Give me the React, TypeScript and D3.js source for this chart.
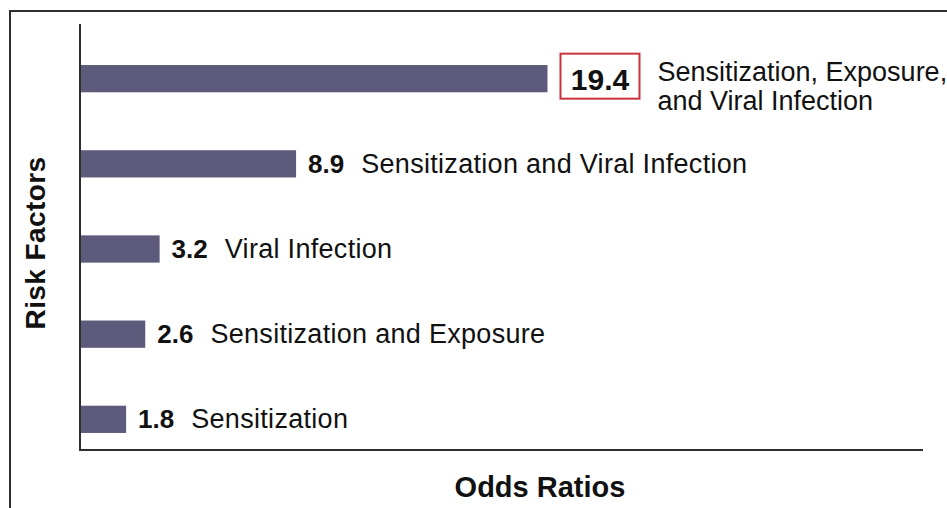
import * as d3 from "d3";

const factors = [
  "Sensitization, Exposure, and Viral Infection",
  "Sensitization and Viral Infection",
  "Viral Infection",
  "Sensitization and Exposure",
  "Sensitization",
];
const oddsRatios = [19.4, 8.9, 3.2, 2.6, 1.8];
const labelLines = [
  ["Sensitization, Exposure,", "and Viral Infection"],
  ["Sensitization and Viral Infection"],
  ["Viral Infection"],
  ["Sensitization and Exposure"],
  ["Sensitization"],
];
const highlighted = 0;

const width = 947;
const height = 508;
const font = "'Liberation Sans', Arial, Helvetica, sans-serif";
const barColor = "#5d5a7b";
const axisColor = "#2e2e2e";

export default function App() {
  const axisX = 80;
  const axisBottom = 450;
  const axisTop = 24;
  const axisRight = 923;

  const xScale = d3.scaleLinear().domain([0, 35]).range([83, 921]);
  const yScale = d3
    .scaleBand<string>()
    .domain(factors)
    .range([48, 450])
    .paddingInner(0.68)
    .paddingOuter(0.2);

  return (
    <svg
      width={width}
      height={height}
      style={{ position: "absolute", left: 0, top: 0, background: "#fff" }}
      fontFamily={font}
    >
      {/* outer frame */}
      <rect x={10} y={11} width={1000} height={600} fill="none" stroke={axisColor} strokeWidth={2} />

      {/* axes */}
      <line x1={axisX} y1={axisTop} x2={axisX} y2={axisBottom + 1} stroke={axisColor} strokeWidth={2} />
      <line x1={axisX} y1={axisBottom} x2={axisRight} y2={axisBottom} stroke={axisColor} strokeWidth={2} />

      {factors.map((f, i) => {
        const v = oddsRatios[i];
        const y = yScale(f) ?? 0;
        const bw = yScale.bandwidth();
        const cy = y + bw / 2;
        const end = xScale(v);
        if (i === highlighted) {
          const bx = end + 13;
          const boxW = 79;
          const boxH = 45;
          return (
            <g key={f}>
              <rect x={axisX + 1} y={y} width={end - axisX - 1} height={bw} fill={barColor} />
              <rect x={bx} y={cy - 25} width={boxW} height={boxH} fill="#fff" stroke="#c9343c" strokeWidth={2} />
              <text x={bx + boxW / 2} y={cy + 11} textAnchor="middle" fontSize={30} fontWeight="bold" fill="#111">
                {d3.format(".1f")(v)}
              </text>
              {labelLines[i].map((line, j) => (
                <text key={j} x={bx + boxW + 18} y={cy + 2 + j * 29} fontSize={27} fill="#111">
                  {line}
                </text>
              ))}
            </g>
          );
        }
        return (
          <g key={f}>
            <rect x={axisX + 1} y={y} width={end - axisX - 1} height={bw} fill={barColor} />
            <text x={end + 12} y={cy + 9} fill="#111">
              <tspan fontSize={26} fontWeight="bold">{d3.format(".1f")(v)}</tspan>
              <tspan dx={17} fontSize={27} letterSpacing={0.3}>{labelLines[i][0]}</tspan>
            </text>
          </g>
        );
      })}

      {/* axis titles */}
      <text
        transform={`translate(45, 243) rotate(-90)`}
        textAnchor="middle"
        fontSize={28}
        fontWeight="bold"
        fill="#111"
        letterSpacing={0.4}
      >
        Risk Factors
      </text>
      <text x={540} y={497} textAnchor="middle" fontSize={29} fontWeight="bold" fill="#111">
        Odds Ratios
      </text>
    </svg>
  );
}
